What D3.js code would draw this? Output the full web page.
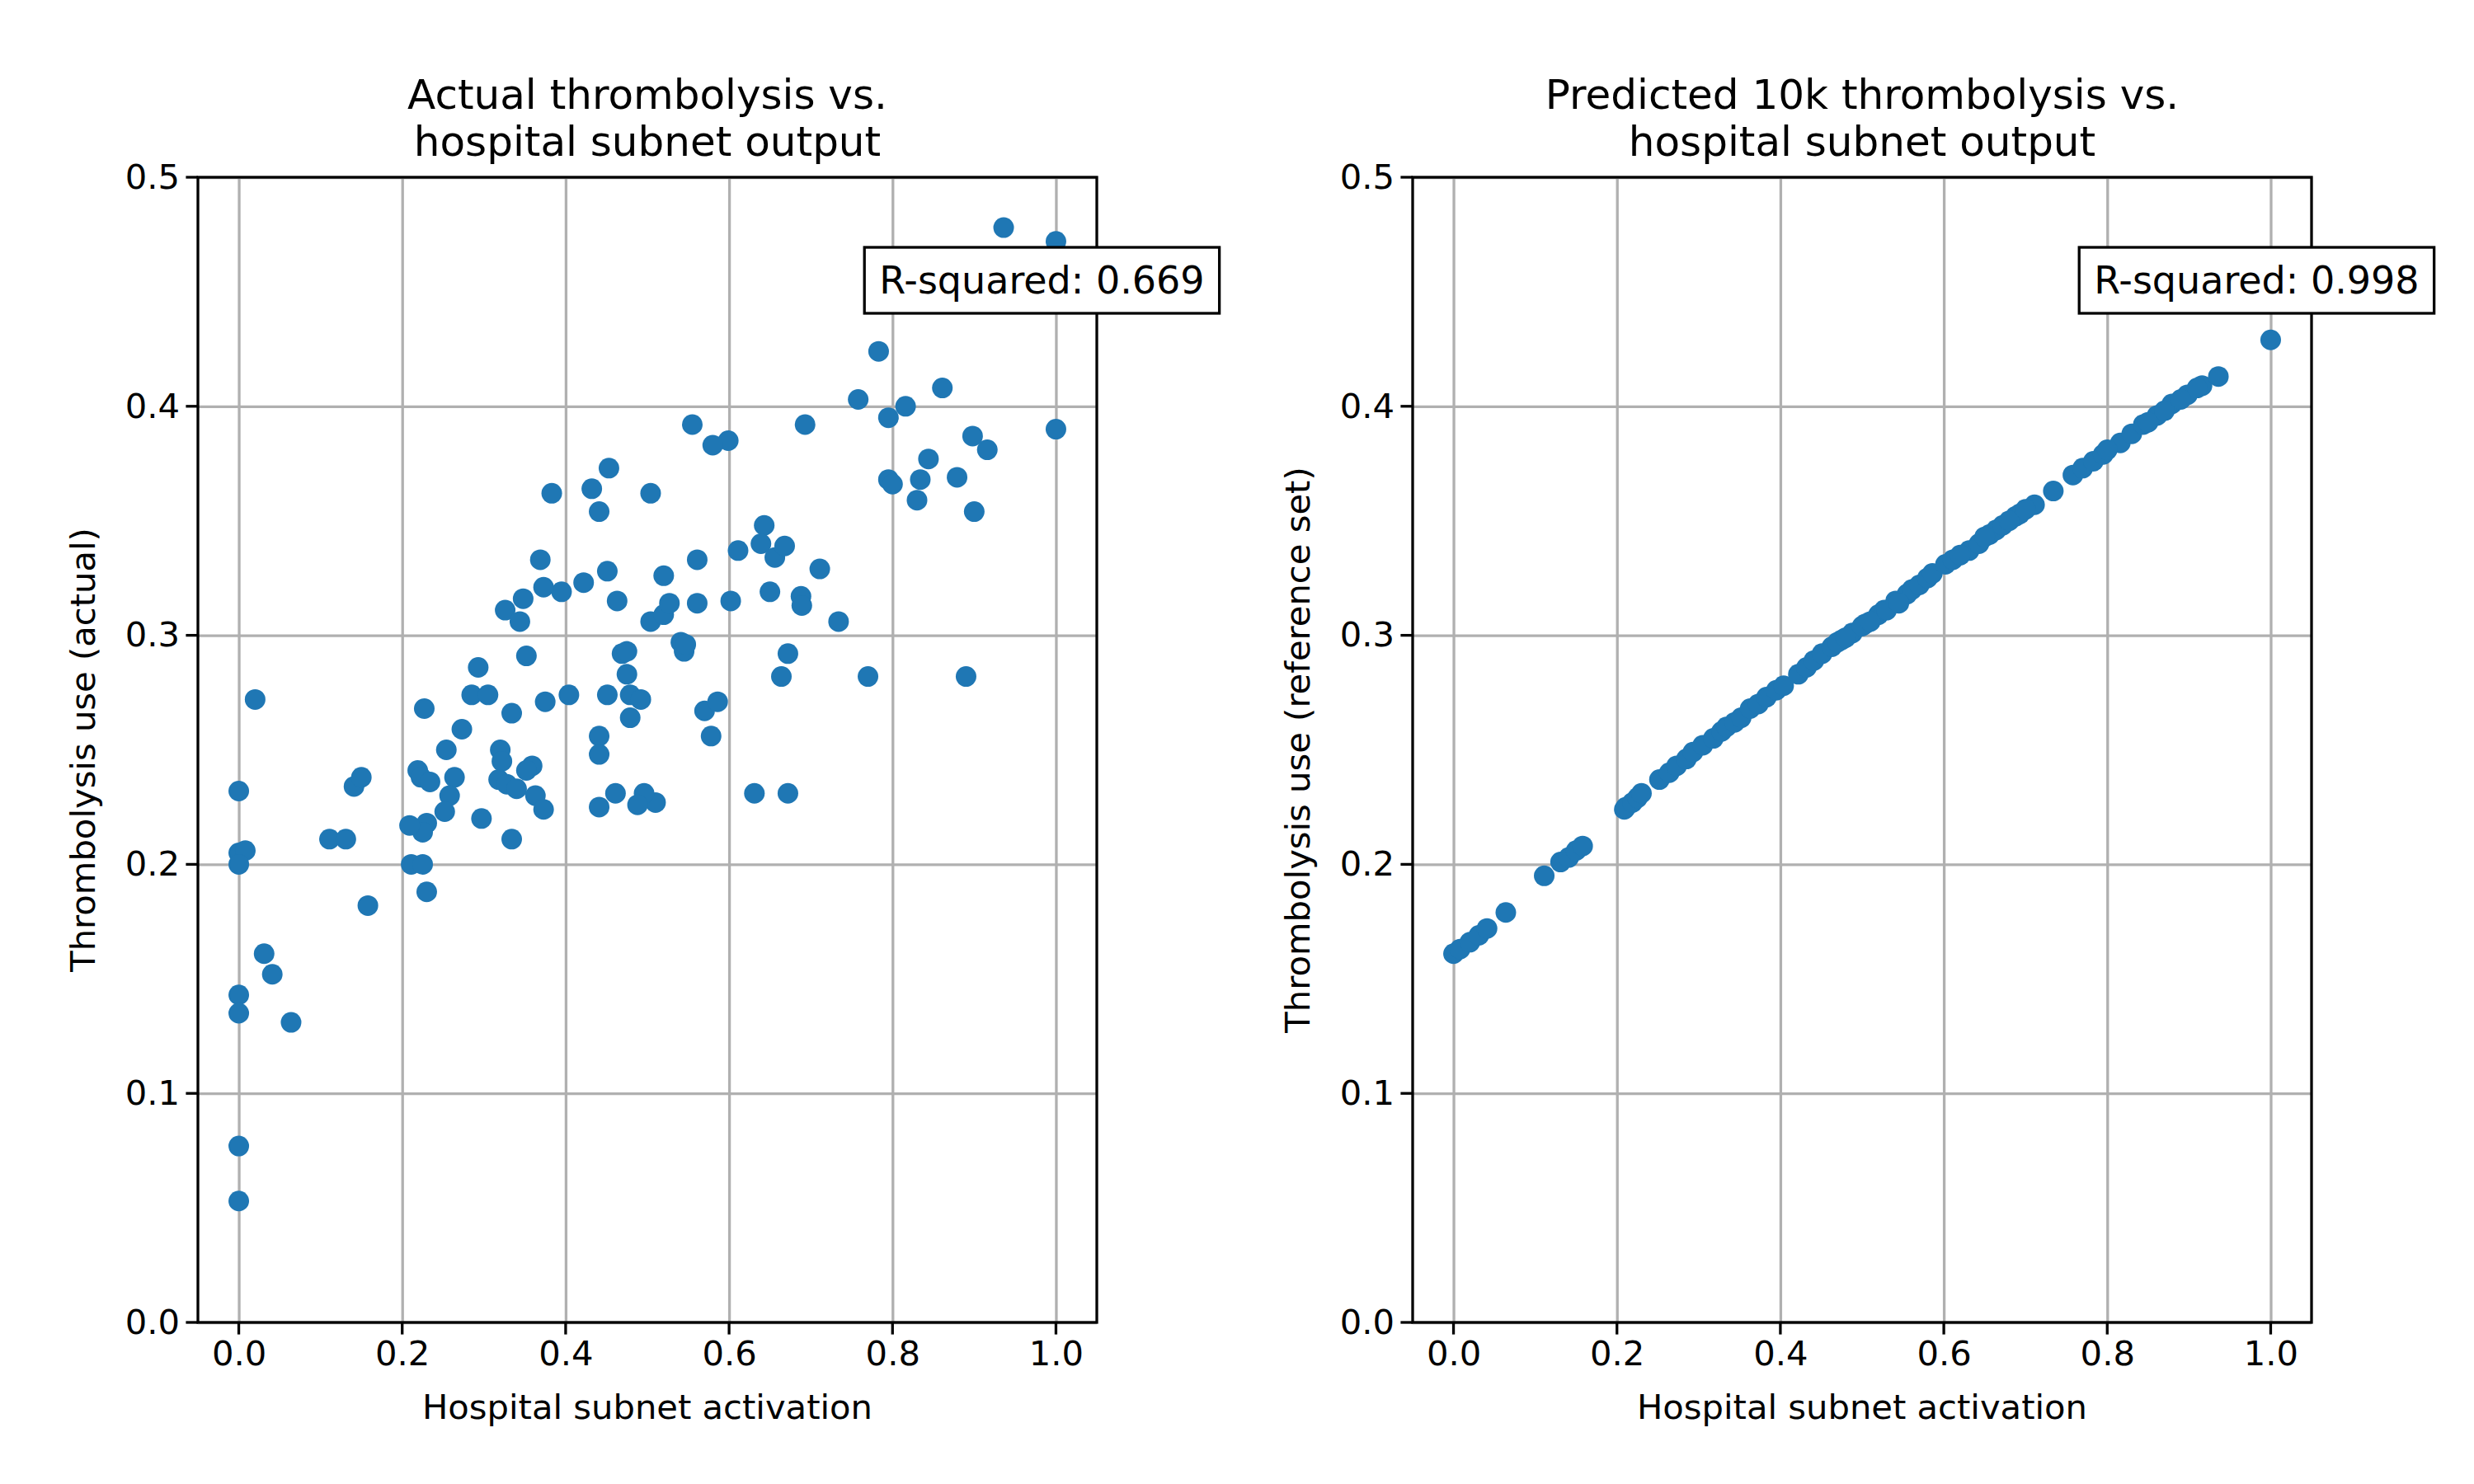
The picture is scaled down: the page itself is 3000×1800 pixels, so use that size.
<!DOCTYPE html>
<html><head><meta charset="utf-8">
<script src="https://cdn.jsdelivr.net/npm/d3@7"></script>
<style>body{margin:0;background:#fff}text{font-family:"DejaVu Sans",sans-serif}</style>
</head><body><svg id="c" width="3000" height="1800"></svg>
<script>
const actualX = [0.936,1.0,1.0,0.783,0.758,0.795,0.816,0.861,0.898,0.916,0.795,0.8,0.834,0.844,0.83,0.879,0.9,0.89,0.77,0.734,0.711,0.693,0.599,0.58,0.555,0.611,0.643,0.639,0.656,0.668,0.65,0.602,0.561,0.561,0.688,0.689,0.672,0.664,0.52,0.504,0.453,0.432,0.441,0.451,0.422,0.395,0.383,0.369,0.373,0.463,0.348,0.326,0.344,0.352,0.334,0.375,0.404,0.469,0.475,0.475,0.451,0.479,0.492,0.479,0.441,0.441,0.504,0.52,0.527,0.541,0.545,0.547,0.57,0.586,0.578,0.631,0.672,0.51,0.496,0.488,0.461,0.441,0.293,0.285,0.305,0.273,0.227,0.254,0.32,0.322,0.359,0.352,0.264,0.219,0.223,0.234,0.258,0.318,0.328,0.34,0.363,0.373,0.297,0.252,0.23,0.225,0.209,0.334,0.211,0.225,0.23,0.141,0.15,0.111,0.131,0.158,0.02,0,0,0.008,0,0.031,0.041,0.064,0,0,0,0];
const actualY = [0.478,0.472,0.39,0.424,0.403,0.395,0.4,0.408,0.387,0.381,0.368,0.366,0.368,0.377,0.359,0.369,0.354,0.282,0.282,0.306,0.329,0.392,0.385,0.383,0.392,0.337,0.348,0.34,0.334,0.339,0.319,0.315,0.314,0.333,0.317,0.313,0.292,0.282,0.326,0.362,0.373,0.364,0.354,0.328,0.323,0.319,0.362,0.333,0.321,0.315,0.316,0.311,0.306,0.291,0.266,0.271,0.274,0.292,0.283,0.293,0.274,0.274,0.272,0.264,0.256,0.248,0.306,0.309,0.314,0.297,0.293,0.296,0.267,0.271,0.256,0.231,0.231,0.227,0.231,0.226,0.231,0.225,0.286,0.274,0.274,0.259,0.268,0.25,0.25,0.245,0.243,0.241,0.238,0.241,0.238,0.236,0.23,0.237,0.235,0.233,0.23,0.224,0.22,0.223,0.218,0.214,0.217,0.211,0.2,0.2,0.188,0.234,0.238,0.211,0.211,0.182,0.272,0.232,0.205,0.206,0.2,0.161,0.152,0.131,0.143,0.135,0.077,0.053];
const predX = [0,0.008,0.02,0.031,0.041,0.064,0.111,0.131,0.141,0.15,0.158,0.209,0.211,0.219,0.225,0.23,0.252,0.264,0.273,0.285,0.293,0.305,0.318,0.328,0.334,0.344,0.352,0.363,0.373,0.383,0.395,0.404,0.422,0.432,0.441,0.451,0.463,0.475,0.488,0.504,0.52,0.527,0.541,0.555,0.561,0.57,0.58,0.586,0.602,0.611,0.631,0.643,0.656,0.664,0.672,0.688,0.693,0.711,0.734,0.758,0.77,0.783,0.795,0.816,0.83,0.844,0.861,0.879,0.898,0.916,0.936,1.0,0.47,0.48,0.5,0.51,0.53,0.545,0.62,0.65,0.68,0.7,0.8,0.85,0.87,0.89,0.91];
const predY = [0.161,0.163,0.166,0.169,0.172,0.179,0.195,0.201,0.203,0.206,0.208,0.224,0.225,0.227,0.229,0.231,0.237,0.24,0.243,0.246,0.249,0.252,0.255,0.258,0.26,0.262,0.264,0.268,0.27,0.273,0.276,0.278,0.283,0.286,0.289,0.292,0.295,0.298,0.301,0.305,0.309,0.311,0.315,0.318,0.32,0.322,0.325,0.327,0.331,0.333,0.337,0.34,0.344,0.346,0.348,0.352,0.353,0.357,0.363,0.37,0.373,0.376,0.379,0.384,0.388,0.392,0.396,0.401,0.405,0.409,0.413,0.429,0.297,0.299,0.304,0.306,0.311,0.314,0.335,0.343,0.35,0.355,0.381,0.393,0.398,0.403,0.408];
const xTicks = [0,0.2,0.4,0.6,0.8,1.0];
const yTicks = [0,0.1,0.2,0.3,0.4,0.5];

const svg = d3.select("#c");
const plotTop = 215, plotBottom = 1604;

function panel(x0, x1, xs, ys, title, ylab, rsq) {
  const g = svg.append("g");
  const x = d3.scaleLinear().domain([-0.05, 1.05]).range([x0, x1]);
  const y = d3.scaleLinear().domain([0, 0.5]).range([plotBottom, plotTop]);
  g.append("g").attr("transform", `translate(0,${plotBottom})`)
    .call(d3.axisBottom(x).tickValues(xTicks).tickFormat(d3.format(".1f")).tickSize(-(plotBottom - plotTop)).tickPadding(22))
    .call(s => s.select(".domain").remove())
    .call(s => s.selectAll("line").attr("stroke", "#b0b0b0").attr("stroke-width", 3.3));
  g.append("g").attr("transform", `translate(${x0},0)`)
    .call(d3.axisLeft(y).tickValues(yTicks).tickFormat(d3.format(".1f")).tickSize(-(x1 - x0)).tickPadding(22))
    .call(s => s.select(".domain").remove())
    .call(s => s.selectAll("line").attr("stroke", "#b0b0b0").attr("stroke-width", 3.3));
  g.selectAll(".tick text").attr("font-size", 41.7).attr("fill", "#000");
  // outer ticks
  g.append("g").selectAll("line").data(xTicks).join("line")
    .attr("x1", d => x(d)).attr("x2", d => x(d)).attr("y1", plotBottom).attr("y2", plotBottom + 14.6)
    .attr("stroke", "#000").attr("stroke-width", 3.3);
  g.append("g").selectAll("line").data(yTicks).join("line")
    .attr("x1", x0).attr("x2", x0 - 14.6).attr("y1", d => y(d)).attr("y2", d => y(d))
    .attr("stroke", "#000").attr("stroke-width", 3.3);
  g.append("g").selectAll("circle").data(xs.map((v, i) => [v, ys[i]])).join("circle")
    .attr("cx", d => x(d[0])).attr("cy", d => y(d[1])).attr("r", 12.5).attr("fill", "#1f77b4");
  g.append("rect").attr("x", x0).attr("y", plotTop).attr("width", x1 - x0).attr("height", plotBottom - plotTop)
    .attr("fill", "none").attr("stroke", "#000").attr("stroke-width", 3.3);
  const cx = (x0 + x1) / 2;
  title.forEach((t, i) => g.append("text").attr("x", cx).attr("y", 132 + i * 57)
    .attr("text-anchor", "middle").attr("font-size", 50).text(t));
  g.append("text").attr("x", cx).attr("y", 1721).attr("text-anchor", "middle")
    .attr("font-size", 41.7).text("Hospital subnet activation");
  g.append("text").attr("transform", `translate(${x0 - 125},${(plotTop + plotBottom) / 2}) rotate(-90)`)
    .attr("text-anchor", "middle").attr("font-size", 41.7).text(ylab);
  const tx = x(1.2) - 18, ty = y(0.455);
  const box = g.append("rect");
  const t = g.append("text").attr("x", tx).attr("y", ty).attr("dy", "0.35em")
    .attr("text-anchor", "end").attr("font-size", 46).text(rsq);
  const b = t.node().getBBox();
  box.attr("x", b.x - 18).attr("y", ty - 40)
    .attr("width", b.width + 36).attr("height", 80)
    .attr("fill", "#fff").attr("stroke", "#000").attr("stroke-width", 3.3);
}

panel(240, 1330, actualX, actualY, ["Actual thrombolysis vs.", "hospital subnet output"],
  "Thrombolysis use (actual)", "R-squared: 0.669");
panel(1713, 2803, predX, predY, ["Predicted 10k thrombolysis vs.", "hospital subnet output"],
  "Thrombolysis use (reference set)", "R-squared: 0.998");
</script></body></html>
